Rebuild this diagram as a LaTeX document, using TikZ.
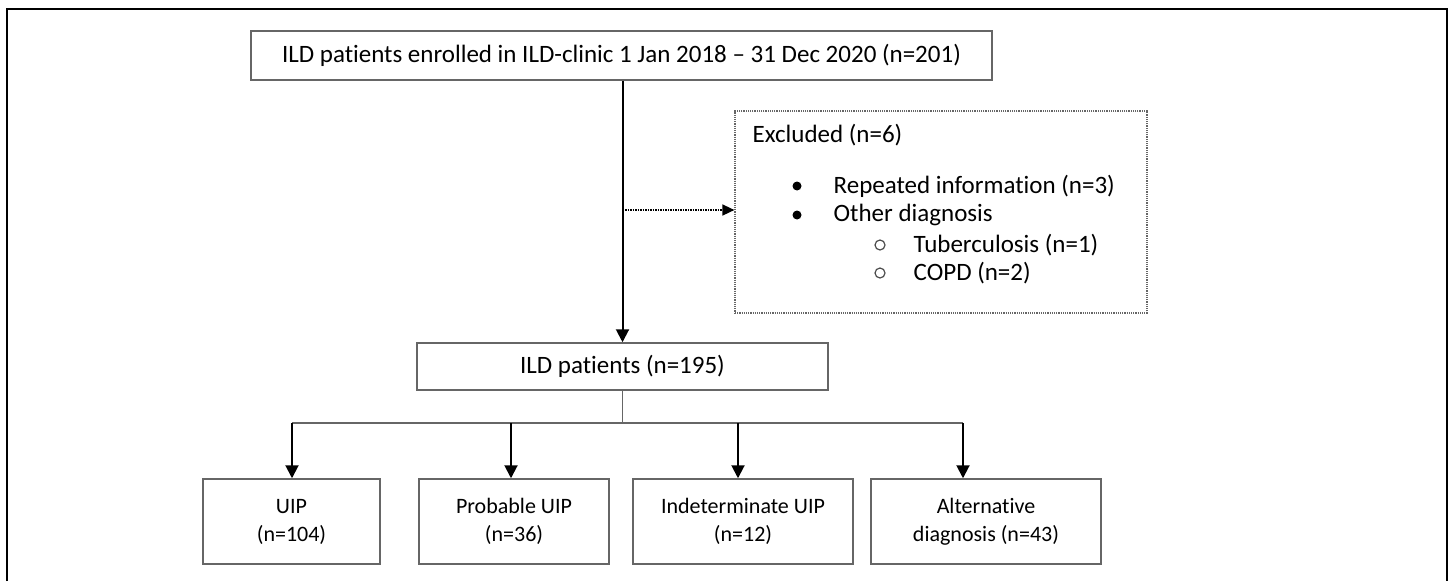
\documentclass[tikz,border=0pt]{standalone}
\usepackage{fontspec}
\setmainfont{Carlito}[Ligatures=NoCommon]
\usetikzlibrary{arrows.meta}

\begin{document}
\begin{tikzpicture}[x=1pt,y=-1pt,line width=1.3pt,
  box/.style={draw=black!60,line width=1.5pt,inner sep=0pt,align=center,
    text=black,font=\fontsize{25}{28}\selectfont},
  small/.style={font=\fontsize{22}{28}\selectfont},
  item/.style={anchor=west,inner sep=0pt,text=black,
    font=\fontsize{25}{28}\selectfont},
  flow/.style={draw=black,line width=2pt,-{Triangle[length=13pt,width=13pt]}}]
\path[use as bounding box] (0,0) rectangle (1450,581);
% outer frame, open at the bottom
\draw[line width=2pt] (7,581)--(7,9)--(1447,9)--(1447,581);
% boxes
\node[box,minimum width=741pt,minimum height=49pt] (enrolled) at (621.5,55.5)
  {ILD patients enrolled in ILD-clinic 1 Jan 2018 -- 31 Dec 2020 (n=201)};
\node[box,minimum width=411pt,minimum height=47pt] (ild) at (622.5,366.5)
  {ILD patients (n=195)};
\node[draw=black!60,densely dotted,line width=1.2pt,minimum width=412pt,
  minimum height=202pt,inner sep=0pt] (excluded) at (941,212) {};
\node[box,small,minimum width=177pt,minimum height=85pt] (uip) at (291.5,521.5)
  {UIP\\(n=104)};
\node[box,small,minimum width=190pt,minimum height=85pt] (prob) at (514,521.5)
  {Probable UIP\\(n=36)};
\node[box,small,minimum width=220pt,minimum height=85pt] (indet) at (743,521.5)
  {Indeterminate UIP\\(n=12)};
\node[box,small,minimum width=230pt,minimum height=85pt] (alt) at (986,521.5)
  {Alternative\\diagnosis (n=43)};
% excluded list
\node[item] (exclhead) at (752,135) {Excluded (n=6)};
\node[item] (repeated) at (833,186) {Repeated information (n=3)};
\node[item] (otherdx) at (833,215) {Other diagnosis};
\node[item] (tb) at (913,245) {Tuberculosis (n=1)};
\node[item] (copd) at (913,273) {COPD (n=2)};
\foreach \y in {186,215} \fill (797,\y) circle (4.5pt);
\foreach \y in {245,273} \draw[black!70,line width=1.2pt] (880,\y) circle (5pt);
% connectors
\draw[flow] (enrolled.south -| ild.north) -- (ild.north);
\coordinate (side) at (625,210);
\draw[densely dotted,line width=1.5pt,-{Triangle[length=12pt,width=11pt]}]
  (side) -- (side -| excluded.west);
\coordinate (bus) at (622.5,423);
\draw[draw=black!60,line width=1.5pt] (ild.south) -- (bus);
\draw[draw=black!60,line width=1.5pt] (292,423) -- (963,423);
\foreach \x/\n in {292/uip,511/prob,738/indet,963/alt}
  \draw[flow] (\x,423) -- (\x,479 |- \n.north);
\end{tikzpicture}
\end{document}
